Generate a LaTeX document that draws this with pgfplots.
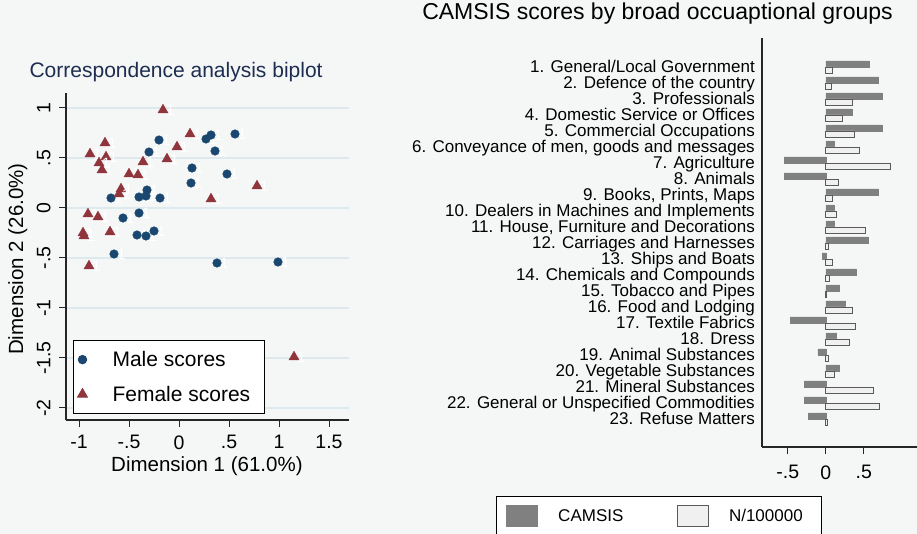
\documentclass[border=0pt]{standalone}
\usepackage{pgfplots}
\pgfplotsset{compat=1.18}
\usepackage{fontspec}
\setmainfont{Liberation Sans}
\definecolor{bg}{RGB}{245,247,247}
\definecolor{gridc}{RGB}{222,233,237}
\definecolor{snavy}{RGB}{26,71,111}
\definecolor{smaroon}{RGB}{144,53,59}
\definecolor{ttl}{RGB}{30,45,80}
\definecolor{darkbar}{RGB}{128,128,128}
\definecolor{lightbar}{RGB}{240,240,240}
\definecolor{barline}{RGB}{90,90,90}
\newcommand{\fsz}[1]{\fontsize{#1}{#1}\selectfont}

\pgfplotstableread{
x y
-0.68 0.10
-0.56 -0.10
-0.65 -0.46
-0.40 -0.05
-0.40 0.11
-0.33 0.12
-0.32 0.18
-0.42 -0.27
-0.33 -0.28
-0.25 -0.23
-0.30 0.56
-0.20 0.68
-0.19 0.10
0.13 0.40
0.12 0.25
0.27 0.69
0.32 0.73
0.36 0.57
0.56 0.74
0.48 0.34
0.38 -0.55
0.99 -0.54
}\male

\pgfplotstableread{
x y
-0.16 0.98
0.11 0.74
-0.02 0.61
-0.12 0.49
-0.36 0.46
-0.74 0.65
-0.89 0.54
-0.73 0.51
-0.80 0.45
-0.77 0.38
-0.50 0.34
-0.41 0.33
-0.58 0.19
-0.60 0.14
0.78 0.22
0.32 0.09
-0.91 -0.06
-0.81 -0.09
-0.69 -0.24
-0.96 -0.25
-0.95 -0.28
-0.90 -0.58
1.15 -1.49
}\female

\pgfplotstableread{
g camsis n
1 0.57 0.088
2 0.69 0.07
3 0.74 0.35
4 0.35 0.22
5 0.74 0.38
6 0.105 0.44
7 -0.55 0.85
8 -0.55 0.17
9 0.69 0.09
10 0.105 0.14
11 0.11 0.52
12 0.56 0.035
13 -0.05 0.08
14 0.40 0.05
15 0.18 0.01
16 0.26 0.35
17 -0.47 0.39
18 0.14 0.31
19 -0.105 0.035
20 0.175 0.11
21 -0.28 0.63
22 -0.285 0.70
23 -0.23 0.02
}\bars

\begin{document}
\begin{tikzpicture}
\path[use as bounding box, fill=bg] (0,0) rectangle (917pt,534pt);

\begin{axis}[
  at={(66pt,114pt)}, anchor=south west, scale only axis,
  width=283pt, height=327pt,
  xmin=-1.13, xmax=1.70, ymin=-2.12, ymax=1.15,
  axis x line*=bottom, axis y line*=left,
  axis line style={line width=1.3pt, color=black!85, -},
  xtick={-1,-0.5,0,0.5,1,1.5}, xticklabels={-1,-.5,0,.5,1,1.5},
  ytick={-2,-1.5,-1,-0.5,0,0.5,1}, yticklabels={-2,-1.5,-1,-.5,0,.5,1},
  tick align=outside, major tick length=7pt,
  tick style={line width=1pt, color=black!85},
  ticklabel style={font=\fsz{19.5}},
  xticklabel style={yshift=-5pt},
  yticklabel style={rotate=90, anchor=south, yshift=5pt},
  ymajorgrids, major grid style={gridc, line width=1.2pt},
  xlabel={Dimension 1 (61.0\%)}, ylabel={Dimension 2 (26.0\%)},
  label style={font=\fsz{20.5}},
  xlabel style={at={(axis description cs:0.498,-0.141)}, anchor=center},
  ylabel style={at={(axis description cs:-0.17,0.492)}, anchor=center},
  title={Correspondence analysis biplot},
  title style={at={(axis description cs:0.389,1.046)}, anchor=center, font=\fsz{21}, text=ttl},
  legend style={at={(0.025,0.018)}, anchor=south west, draw=black, line width=0.8pt,
    fill=white, font=\fsz{21}, row sep=14pt, inner xsep=4pt, inner ysep=9pt},
  legend cell align=left,
  clip=false,
  nodes near coords={1},
  every node near coord/.style={anchor=west, font=\fsz{15}, text=white, xshift=2pt, inner sep=1pt},
]
\addplot[only marks, mark=*, mark size=4.3pt, color=snavy] table[x=x,y=y] {\male};
\addlegendentry{\hspace*{23pt}Male scores}
\addplot[only marks, mark=triangle*, mark size=5.8pt, color=smaroon] table[x=x,y=y] {\female};
\addlegendentry{\hspace*{23pt}\makebox[146pt][l]{Female scores}}
\end{axis}

\begin{axis}[
  at={(762pt,87pt)}, anchor=south west, scale only axis,
  width=155pt, height=409pt,
  xmin=-0.84, xmax=1.2, ymin=-0.81, ymax=24.75, y dir=reverse,
  xbar=0pt, bar width=6pt,
  axis x line*=bottom, axis y line*=left,
  axis line style={line width=1.3pt, color=black!85, -},
  xtick={-0.5,0,0.5}, xticklabels={-.5,0,.5},
  ytick={1,...,23},
  yticklabels={{1. General/Local Government},{2. Defence of the country},{3. Professionals},
    {4. Domestic Service or Offices},{5. Commercial Occupations},
    {6. Conveyance of men, goods and messages},{7. Agriculture},{8. Animals},
    {9. Books, Prints, Maps},{10. Dealers in Machines and Implements},
    {11. House, Furniture and Decorations},{12. Carriages and Harnesses},
    {13. Ships and Boats},{14. Chemicals and Compounds},{15. Tobacco and Pipes},
    {16. Food and Lodging},{17. Textile Fabrics},{18. Dress},{19. Animal Substances},
    {20. Vegetable Substances},{21. Mineral Substances},
    {22. General or Unspecified Commodities},{23. Refuse Matters}},
  tick align=outside, major tick length=7pt,
  xtick style={line width=1pt, color=black!85},
  ytick style={draw=none},
  yticklabel style={font=\fsz{17}, inner sep=0pt, anchor=east, text height=13pt, text depth=1pt},
  xticklabel style={font=\fsz{19.5}, yshift=-8pt},
  title={CAMSIS scores by broad occuaptional groups},
  title style={at={(axis description cs:-0.674,1.044)}, anchor=center, font=\fsz{23}},
  legend style={at={(axis description cs:-1.716,-0.12)}, anchor=north west,
    draw=black, line width=0.8pt, fill=white, font=\fsz{17}, legend columns=2,
    inner xsep=10pt, inner ysep=9pt},
  legend image code/.code={\draw[#1] (0pt,-10.5pt) rectangle (31pt,10.5pt);},
]
\addplot[fill=darkbar, draw=darkbar, bar shift=3pt] table[x=camsis, y=g] {\bars};
\addlegendentry{\hspace*{18pt}\makebox[117pt][l]{CAMSIS}}
\addplot[fill=lightbar, draw=barline, line width=0.8pt, bar shift=-3pt] table[x=n, y=g] {\bars};
\addlegendentry{\hspace*{18pt}\makebox[80pt][l]{N/100000}}
\end{axis}
\end{tikzpicture}
\end{document}
